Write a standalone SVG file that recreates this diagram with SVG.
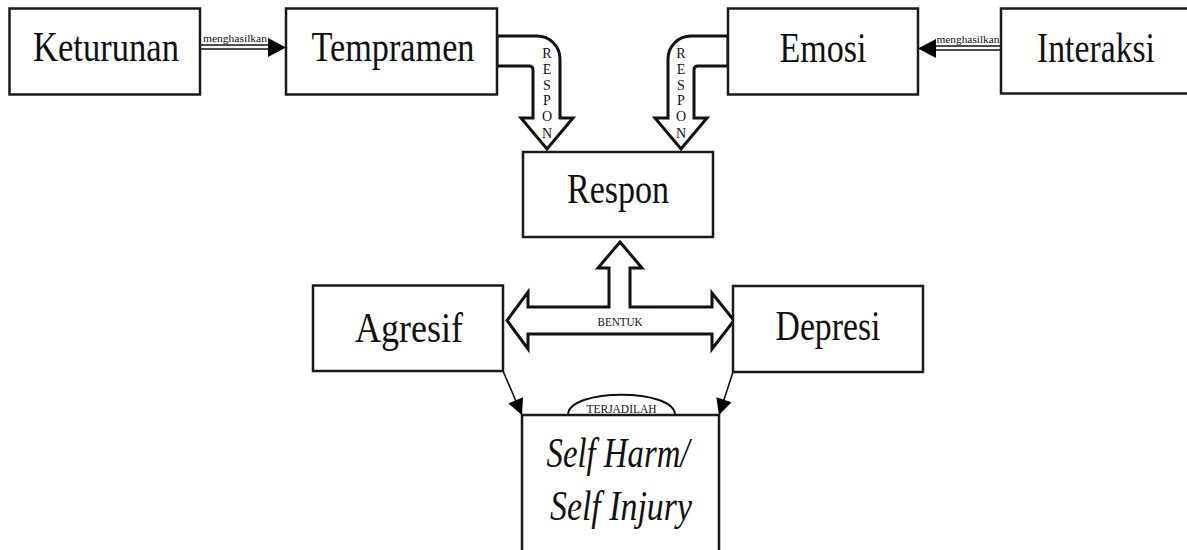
<svg xmlns="http://www.w3.org/2000/svg" width="1187" height="550" viewBox="0 0 1187 550">
<defs>
<style>
.box{fill:#fff;stroke:#1a1a1a;stroke-width:2.5}
.big{font-family:"Liberation Serif","Times New Roman",serif;font-size:42px;fill:#111;text-anchor:middle}
.it{font-style:italic}
.small{font-family:"Liberation Serif","Times New Roman",serif;fill:#111;text-anchor:middle}
.block{fill:#fff;stroke:#111;stroke-width:3;stroke-linejoin:miter}
.line{stroke:#111;stroke-width:1.6;fill:none}
</style>
<marker id="tri2" viewBox="0 0 10 10" refX="10" refY="5" markerWidth="20" markerHeight="16" markerUnits="userSpaceOnUse" orient="auto">
<path d="M0,0 L10,5 L0,10 z" fill="#000"/>
</marker>
</defs>
<rect width="1187" height="550" fill="#fff"/>

<g id="connectors">
  <!-- Keturunan -> Tempramen -->
  <line class="line" x1="200" y1="45" x2="270" y2="45"/>
  <line class="line" x1="200" y1="49" x2="270" y2="49"/>
  <path d="M268,38 L286,47.5 L268,57 z" fill="#000"/>
  <text class="small" x="235" y="41.5" font-size="10" textLength="64" lengthAdjust="spacingAndGlyphs">menghasilkan</text>
  <!-- Interaksi -> Emosi -->
  <line class="line" x1="1001" y1="46" x2="934" y2="46"/>
  <line class="line" x1="1001" y1="50" x2="934" y2="50"/>
  <path d="M936,39 L918,48.5 L936,58 z" fill="#000"/>
  <text class="small" x="968" y="42.5" font-size="10" textLength="63" lengthAdjust="spacingAndGlyphs">menghasilkan</text>

  <!-- Tempramen RESPON bent arrow -->
  <path class="block" d="M497,36 L537,36 A23,23 0 0 1 560,59 L560,118 L573,118 L547,149 L521,118 L533,118 L533,70 Q533,66 529,66 L497,66 Z"/>
  <g class="small" font-size="14">
    <text x="547" y="58">R</text><text x="547" y="74">E</text><text x="547" y="90">S</text>
    <text x="547" y="105">P</text><text x="547" y="121">O</text><text x="547" y="138">N</text>
  </g>
  <!-- Emosi RESPON bent arrow -->
  <path class="block" d="M728,36 L691,36 A23,23 0 0 0 668,59 L668,118 L655,118 L681,149 L707,118 L694,118 L694,70 Q694,66 698,66 L728,66 Z"/>
  <g class="small" font-size="14">
    <text x="681" y="58">R</text><text x="681" y="74">E</text><text x="681" y="90">S</text>
    <text x="681" y="105">P</text><text x="681" y="121">O</text><text x="681" y="138">N</text>
  </g>

  <!-- BENTUK arrows -->
  <path class="block" d="M620,242 L642,268 L630,268 L630,307 L712,307 L712,293 L734,320.5 L712,349 L712,334 L528,334 L528,349 L507,320.5 L528,292 L528,307 L609,307 L609,268 L598,268 Z"/>
  <text class="small" x="620" y="326" font-size="12" textLength="45" lengthAdjust="spacingAndGlyphs">BENTUK</text>

  <!-- Agresif / Depresi -> Self Harm -->
  <line x1="503" y1="371" x2="522" y2="415" stroke="#111" stroke-width="1.6" marker-end="url(#tri2)"/>
  <line x1="733" y1="372" x2="719" y2="415" stroke="#111" stroke-width="1.6" marker-end="url(#tri2)"/>

  <!-- TERJADILAH -->
  <path d="M568,415 C568,388 675,388 675,415" fill="#fff" stroke="#111" stroke-width="2"/>
  <text class="small" x="621.5" y="413" font-size="13" textLength="70" lengthAdjust="spacingAndGlyphs">TERJADILAH</text>
</g>

<g id="keturunan">
  <rect class="box" x="9.5" y="8.5" width="190.5" height="86"/>
  <text class="big" x="106" y="61" textLength="146" lengthAdjust="spacingAndGlyphs">Keturunan</text>
</g>
<g id="tempramen">
  <rect class="box" x="286" y="8.5" width="211" height="86"/>
  <text class="big" x="393" y="61" textLength="163" lengthAdjust="spacingAndGlyphs">Tempramen</text>
</g>
<g id="emosi">
  <rect class="box" x="728" y="8.5" width="190" height="86"/>
  <text class="big" x="823" y="62" textLength="87" lengthAdjust="spacingAndGlyphs">Emosi</text>
</g>
<g id="interaksi">
  <rect class="box" x="1001" y="8.5" width="200" height="85"/>
  <text class="big" x="1096" y="62" textLength="118" lengthAdjust="spacingAndGlyphs">Interaksi</text>
</g>
<g id="respon">
  <rect class="box" x="523" y="152" width="190" height="85"/>
  <text class="big" x="618" y="203" textLength="102" lengthAdjust="spacingAndGlyphs">Respon</text>
</g>
<g id="agresif">
  <rect class="box" x="313" y="285.5" width="190" height="85.5"/>
  <text class="big" x="409" y="342" textLength="108" lengthAdjust="spacingAndGlyphs">Agresif</text>
</g>
<g id="depresi">
  <rect class="box" x="733" y="286" width="190" height="86"/>
  <text class="big" x="828" y="340" textLength="105" lengthAdjust="spacingAndGlyphs">Depresi</text>
</g>
<g id="selfharm">
  <rect class="box" x="522" y="415" width="197" height="150"/>
  <text class="big it" x="618" y="467" textLength="143" lengthAdjust="spacingAndGlyphs">Self Harm/</text>
  <text class="big it" x="621" y="520" textLength="142" lengthAdjust="spacingAndGlyphs">Self Injury</text>
</g>
</svg>
